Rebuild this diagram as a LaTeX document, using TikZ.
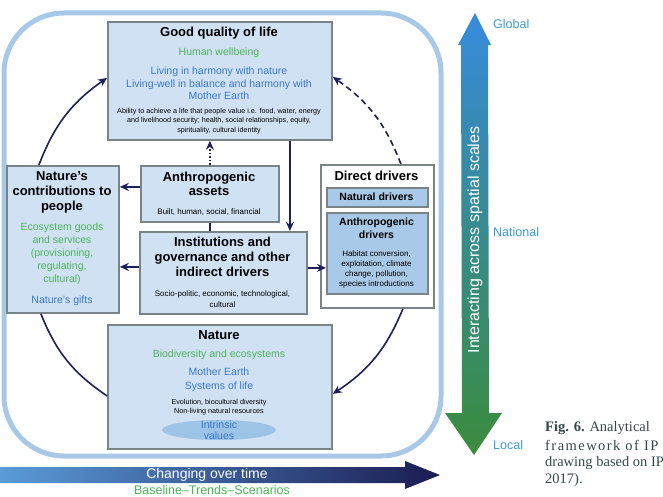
\documentclass[tikz,border=0pt]{standalone}
\usepackage{fontspec}
\setmainfont{Liberation Sans}
\newfontfamily\capfont{Liberation Serif}
\usetikzlibrary{arrows.meta,shapes.geometric,calc}
\definecolor{boxfill}{HTML}{CFE1F2}
\definecolor{boxdraw}{HTML}{7A8487}
\definecolor{drvfill}{HTML}{A9C9E8}
\definecolor{framec}{HTML}{A7C8E6}
\definecolor{navy}{HTML}{1F1F5C}
\definecolor{tgreen}{HTML}{4DB35A}
\definecolor{tblue}{HTML}{3A78C9}
\definecolor{lblue}{HTML}{3D9AD9}
\definecolor{ellfill}{HTML}{9DC3E6}
\definecolor{capcol}{HTML}{34474A}
\begin{document}
\begin{tikzpicture}[x=1pt,y=-1pt,
  box/.style={draw=boxdraw, line width=1.8pt, fill=boxfill, inner sep=0pt, anchor=north west},
  ttl/.style={font=\fontsize{13}{15}\selectfont\bfseries, align=center, inner sep=0pt},
  sttl/.style={font=\fontsize{10.5}{13}\selectfont\bfseries, align=center, inner sep=0pt},
  grn/.style={text=tgreen, font=\fontsize{10.5}{13}\selectfont, align=center, inner sep=0pt},
  blu/.style={text=tblue, font=\fontsize{10.5}{12.5}\selectfont, align=center, inner sep=0pt},
  sml/.style={font=\fontsize{8}{10}\selectfont, align=center, inner sep=0pt},
  tiny/.style={font=\fontsize{7.2}{9.3}\selectfont, align=center, inner sep=0pt},
  conn/.style={draw=navy, line width=1.6pt, -{Stealth[length=9pt,width=8pt]}},
  scl/.style={text=lblue, font=\fontsize{12.5}{14}\selectfont, anchor=west, inner sep=0pt},
  capt/.style={text=capcol, font=\capfont\fontsize{14.5}{16}\selectfont, anchor=west, inner sep=0pt}
]
\useasboundingbox (0,0) rectangle (663,497);
% outer frame
\draw[draw=framec, line width=5pt, rounded corners=60pt] (4,13) rectangle (441,456);

% boxes
\node[box, minimum width=224pt, minimum height=118pt] (gql) at (107,21) {};
\node[box, minimum width=112pt, minimum height=147pt] (ncp) at (6,165) {};
\node[box, minimum width=138pt, minimum height=56pt] (aa) at (140,165) {};
\node[box, minimum width=167pt, minimum height=82pt] (inst) at (139,231) {};
\node[box, fill=white, minimum width=113pt, minimum height=143pt] (dd) at (320,164) {};
\node[box, fill=drvfill, minimum width=101pt, minimum height=19pt] (nd) at (326,187) {};
\node[box, fill=drvfill, minimum width=101pt, minimum height=81pt] (ad) at (326,212) {};
\node[box, minimum width=224pt, minimum height=124pt] (nat) at (107,324) {};

% Good quality of life
\node[ttl] (gqlt) at (219,33) {Good quality of life};
\node[grn] (gqlg) at (219,53) {Human wellbeing};
\node[blu] (gqlb) at (219,83.5) {Living in harmony with nature\\Living-well in balance and harmony with\\Mother Earth};
\node[tiny] (gqls) at (219,121) {Ability to achieve a life that people value i.e. food, water, energy\\and livelihood security; health, social relationships, equity,\\spirituality, cultural identity};

% Nature's contributions to people
\node[ttl] (ncpt) at (62,192) {Nature’s\\contributions to\\people};
\node[grn] (ncpg) at (62,254) {Ecosystem goods\\and services\\(provisioning,\\regulating,\\cultural)};
\node[blu] (ncpb) at (62,301) {Nature’s gifts};

% Anthropogenic assets
\node[ttl, font=\fontsize{13}{14}\selectfont\bfseries] (aat) at (209,184) {Anthropogenic\\assets};
\node[sml] (aas) at (209,212) {Built, human, social, financial};

% Institutions
\node[ttl] (instt) at (222.5,257) {Institutions and\\governance and other\\indirect drivers};
\node[sml, font=\fontsize{8}{11}\selectfont] (insts) at (222.5,299) {Socio-politic, economic, technological,\\cultural};

% Direct drivers
\node[ttl] (ddt) at (376.5,176) {Direct drivers};
\node[sttl] (ndt) at (376.5,196.5) {Natural drivers};
\node[sttl] (adt) at (376.5,228.5) {Anthropogenic\\drivers};
\node[sml] (ads) at (376.5,269) {Habitat conversion,\\exploitation, climate\\change, pollution,\\species introductions};

% Nature
\node[ttl] (natt) at (219,335) {Nature};
\node[grn] (natg) at (219,355) {Biodiversity and ecosystems};
\node[blu, font=\fontsize{10.5}{14}\selectfont] (natb) at (219,380) {Mother Earth\\Systems of life};
\node[tiny, font=\fontsize{7.2}{9}\selectfont] (nats) at (219,407.5) {Evolution, biocultural diversity\\Non-living natural resources};
\node[ellipse, fill=ellfill, minimum width=114pt, minimum height=20pt, inner sep=0pt] (iv) at (219,430) {};
\node[blu, font=\fontsize{10.5}{11}\selectfont] (ivt) at (219,430.5) {Intrinsic\\values};

% straight connectors
\draw[conn] ([yshift=7pt]aa.west) -- ([yshift=7pt]aa.west -| ncp.east);
\draw[conn] ([yshift=6pt]inst.west) -- ([yshift=6pt]inst.west -| ncp.east);
\draw[conn] ([yshift=5pt]inst.east) -- ([yshift=5pt]inst.east -| ad.west);
\coordinate (gqlout) at ([xshift=70pt]gql.south);
\draw[conn] (gqlout) -- (gqlout |- inst.north);
\draw[draw=navy, line width=1.6pt] (aa.south) -- (aa.south |- inst.north);
\draw[conn, dash pattern=on 1.6pt off 2pt] (aa.north) -- (aa.north |- gql.south);

% curved connectors
\draw[conn] ([xshift=-24pt]ncp.north) to[bend left=17] ([yshift=3pt]gql.west);
\draw[draw=navy, line width=1.6pt] ([xshift=-22pt]ncp.south) to[bend right=17] ([yshift=-9pt]nat.west);
\draw[conn] ([xshift=25.5pt]dd.south) to[bend left=17] ([yshift=-7pt]nat.east);
\draw[conn, dash pattern=on 6pt off 4pt] ([xshift=23.5pt]dd.north) to[bend right=17] ([yshift=4pt]gql.east);

% vertical scale arrow
\shade[top color=lblue!90!blue, middle color={rgb,255:red,40;green,140;blue,150}, bottom color={rgb,255:red,58;green,140;blue,60}]
  (475,13) -- (491,45) -- (488,45) -- (489,413) -- (502,413) -- (474,455) -- (445,413) -- (462,413) -- (461,45) -- (458,45) -- cycle;
\node[rotate=90, text=white, font=\fontsize{16}{18}\selectfont, inner sep=0pt] (scalet) at (475,240) {Interacting across spatial scales};
\node[scl] (glob) at (493,24) {Global};
\node[scl] (natl) at (493,232) {National};
\node[scl] (locl) at (493,445) {Local};

% horizontal time arrow
\shade[left color={rgb,255:red,90;green,155;blue,216}, middle color={rgb,255:red,40;green,90;blue,190}, right color={rgb,255:red,26;green,28;blue,82}]
  (0,467) -- (405,467) -- (405,461) -- (440,475) -- (405,489) -- (405,483) -- (0,483) -- cycle;
\node[text=tgreen, font=\fontsize{12.5}{14}\selectfont, inner sep=0pt] (bts) at (212,490.5) {Baseline–Trends–Scenarios};
\node[text=white, font=\fontsize{14}{16}\selectfont, inner sep=0pt] (timet) at (207,475) {Changing over time};

% caption
\node[capt] (cap1) at (545,428) {\textbf{Fig. 6.} Analytical};
\node[capt, font=\capfont\fontsize{14.5}{16}\selectfont\addfontfeature{LetterSpace=10}] (cap2) at (545,445) {framework of IP};
\node[capt] (cap3) at (545,463) {drawing based on IP};
\node[capt] (cap4) at (545,480) {2017).};
\end{tikzpicture}
\end{document}
